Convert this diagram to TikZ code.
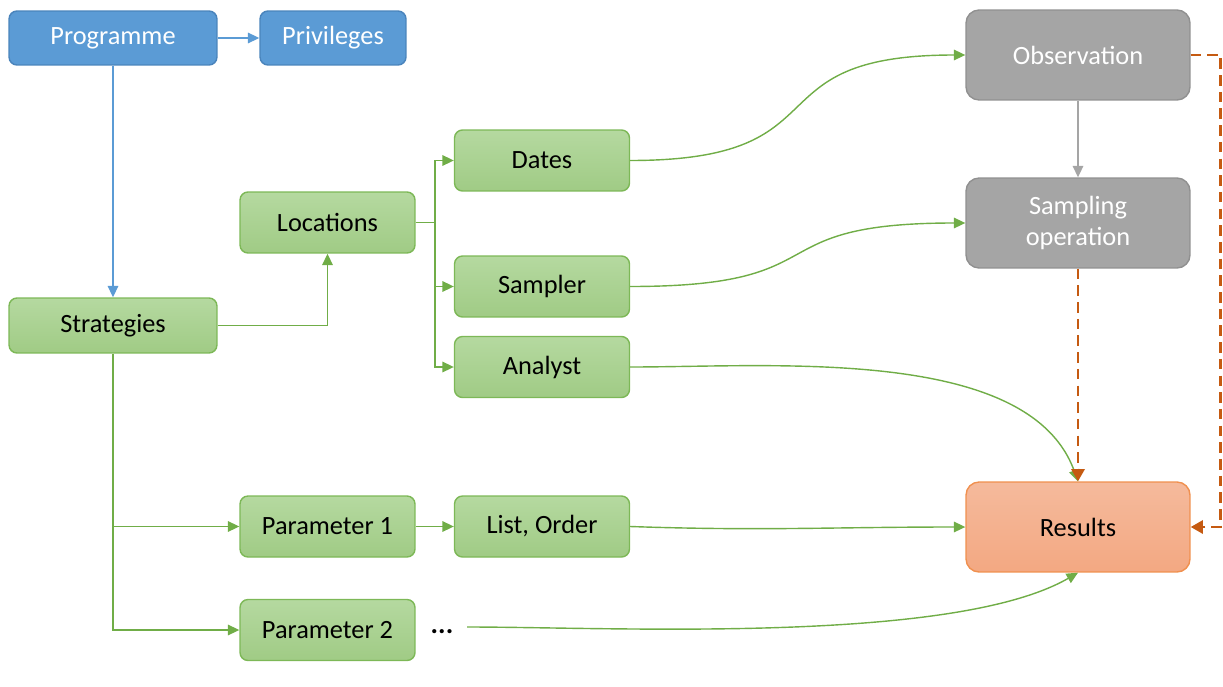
\documentclass[tikz,border=0pt]{standalone}
\usepackage{fontspec}
\setmainfont{Carlito}
\usetikzlibrary{arrows.meta}

\definecolor{progblue}{HTML}{5B9BD5}
\definecolor{progedge}{HTML}{4A84BC}
\definecolor{greentop}{HTML}{B5D9A0}
\definecolor{greenbot}{HTML}{A0CB85}
\definecolor{greenedge}{HTML}{7DB857}
\definecolor{linegreen}{HTML}{70AD47}
\definecolor{obsgray}{HTML}{A5A5A5}
\definecolor{obsedge}{HTML}{909090}
\definecolor{restop}{HTML}{F5BA9C}
\definecolor{resbot}{HTML}{F3A882}
\definecolor{resedge}{HTML}{F0904F}
\definecolor{dashorange}{HTML}{C55A11}

\tikzset{
  box/.style={draw, rounded corners=0.16cm, line width=0.8pt, inner sep=0pt,
    font=\fontsize{15}{18}\selectfont},
  bluebox/.style={box, fill=progblue, draw=progedge, text=white, minimum height=1.08cm},
  greenbox/.style={box, top color=greentop, bottom color=greenbot, draw=greenedge,
    minimum width=3.5cm, minimum height=1.22cm},
  graybox/.style={box, rounded corners=0.26cm, fill=obsgray, draw=obsedge, text=white,
    minimum width=4.48cm, minimum height=1.8cm, align=center},
  resbox/.style={box, rounded corners=0.26cm, top color=restop, bottom color=resbot,
    draw=resedge, minimum width=4.48cm, minimum height=1.8cm},
  blueline/.style={draw=progblue, line width=0.8pt, -{Triangle[length=6.5pt,width=6pt]}},
  greenline/.style={draw=linegreen, line width=0.8pt, -{Triangle[length=6.5pt,width=6pt]}},
  grayline/.style={draw=obsgray, line width=0.8pt, -{Triangle[length=6.5pt,width=6pt]}},
  dashline/.style={draw=dashorange, line width=1.6pt, dash pattern=on 6pt off 3.5pt,
    -{Triangle[length=7pt,width=7.5pt]}}
}

\begin{document}
\begin{tikzpicture}[x=0.02cm, y=-0.02cm]
  \useasboundingbox (0,0) rectangle (1223,686);

  \node[bluebox, minimum width=4.16cm] (prog) at (113,38) {Programme};
  \node[bluebox, minimum width=2.92cm] (priv) at (333,38) {Privileges};
  \node[greenbox, minimum width=4.16cm, minimum height=1.1cm] (strat) at (113,325.5) {Strategies};
  \node[greenbox] (loc) at (327.5,222.5) {Locations};
  \node[greenbox] (dates) at (542,160.5) {Dates};
  \node[greenbox] (sampler) at (542,286.5) {Sampler};
  \node[greenbox] (analyst) at (542,367) {Analyst};
  \node[greenbox] (par1) at (327.5,526.5) {Parameter 1};
  \node[greenbox] (list) at (542,526.5) {List, Order};
  \node[greenbox] (par2) at (327.5,630) {Parameter 2};
  \node[font=\fontsize{16}{18}\selectfont\bfseries, inner sep=2pt] (dots) at (442,632) {...};
  \node[graybox] (obs) at (1078,55) {Observation};
  \node[graybox] (samp) at (1078,223) {Sampling\\operation};
  \node[resbox] (res) at (1078,527) {Results};

  \draw[blueline] (prog) -- (priv);
  \draw[blueline] (prog) -- (strat);

  \draw[greenline] (strat.east) -| (loc.south);
  \coordinate (lfork) at (435,222.5);
  \draw[draw=linegreen, line width=0.8pt] (loc.east) -- (lfork);
  \draw[greenline] (lfork) |- (dates.west);
  \draw[greenline] (lfork) |- (sampler.west);
  \draw[greenline] (lfork) |- (analyst.west);

  \coordinate (sfork) at (113,526.5);
  \draw[greenline] (strat.south) |- (par2.west);
  \draw[greenline] (sfork) -- (par1.west);
  \draw[greenline] (par1) -- (list);

  \draw[greenline] (dates.east) to[out=0, in=180, looseness=1.6] (obs.west);
  \draw[greenline] (sampler.east) to[out=0, in=180, looseness=1.6] (samp.west);
  \draw[greenline] (analyst.east) to[out=0, in=110, looseness=0.8] (res.north);
  \draw[greenline] (list.east) to[out=-2, in=180] (res.west);
  \draw[greenline] (dots.east) ++(10,-5) to[out=0, in=210, looseness=0.6] (res.south);

  \draw[grayline] (obs) -- (samp);
  \draw[dashline] (samp) -- (res);
  \draw[dashline] (obs.east) -- ++(30,0) |- (res.east);
\end{tikzpicture}
\end{document}
